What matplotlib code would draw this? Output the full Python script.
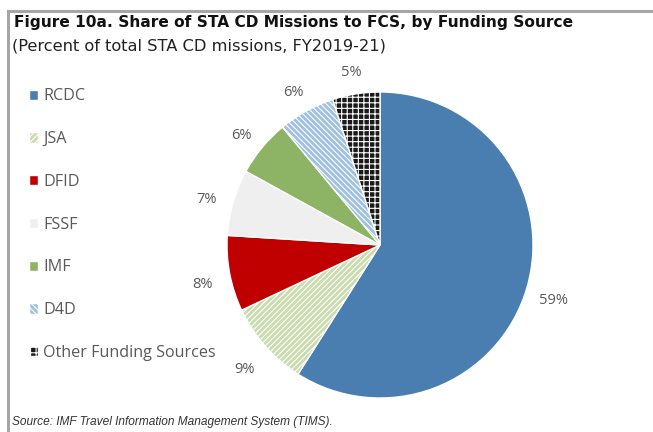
import matplotlib
matplotlib.use("Agg")
import matplotlib.pyplot as plt
from matplotlib.lines import Line2D

# Share of STA CD missions to FCS by funding source, FY2019-21 (percent)
sources = ["RCDC", "JSA", "DFID", "FSSF", "IMF", "D4D", "Other Funding Sources"]
shares = [59, 9, 8, 7, 6, 6, 5]

colors = ["#4a7eb0", "#c9dcae", "#c00000", "#efefef", "#8db465", "#9fc0e0", "#1a1a1a"]
hatches = [None, "//////", None, None, None, "\\\\\\\\\\\\", "+++"]

plt.rcParams["hatch.linewidth"] = 0.8

fig = plt.figure(figsize=(6.53, 4.32), dpi=100)
W, H = 653, 432

# outer frame: top and left rules only
fig.add_artist(Line2D([8 / W, 1], [1 - 11 / H, 1 - 11 / H], color="#a6a6a6", lw=2.2))
fig.add_artist(Line2D([8 / W, 8 / W], [0, 1 - 11 / H], color="#a6a6a6", lw=2.2))

fig.text(14 / W, 1 - 23 / H, "Figure 10a. Share of STA CD Missions to FCS, by Funding Source",
         fontsize=11.1, fontweight="bold", family="DejaVu Sans", va="center", color="#111111")
fig.text(12 / W, 1 - 46 / H, "(Percent of total STA CD missions, FY2019-21)",
         fontsize=11.7, family="DejaVu Sans", va="center", color="#222222")
fig.text(12 / W, 1 - 422 / H, "Source: IMF Travel Information Management System (TIMS).",
         fontsize=8.6, style="italic", family="Liberation Sans", va="center", color="#333333")

ax = fig.add_axes([227 / W, 34 / H, 306 / W, 306 / H])
wedges, texts, autotexts = ax.pie(
    shares, colors=colors, startangle=90, counterclock=False, radius=1,
    autopct="%.0f%%", pctdistance=1.18,
    wedgeprops=dict(edgecolor="white", linewidth=1.0),
    textprops=dict(fontsize=10.5, family="Open Sans", color="#595959"),
)
for w, h in zip(wedges, hatches):
    if h:
        w.set_hatch(h)
for t in autotexts:
    x, y = t.get_position()
    t.set_position((x, y - 0.035))
    t.set_clip_on(False)
ax.set_xlim(-1, 1)
ax.set_ylim(-1, 1)
ax.set_aspect("equal")
ax.axis("off")

leg = fig.legend(wedges, sources, loc="upper left", bbox_to_anchor=(14 / W, 1 - 74 / H),
                 frameon=False, labelspacing=1.66,
                 handlelength=0.6, handleheight=0.6, handletextpad=0.3,
                 prop=dict(family="Open Sans", size=11.6))
for t in leg.get_texts():
    t.set_color("#595959")

fig.savefig("out.png", dpi=100)
